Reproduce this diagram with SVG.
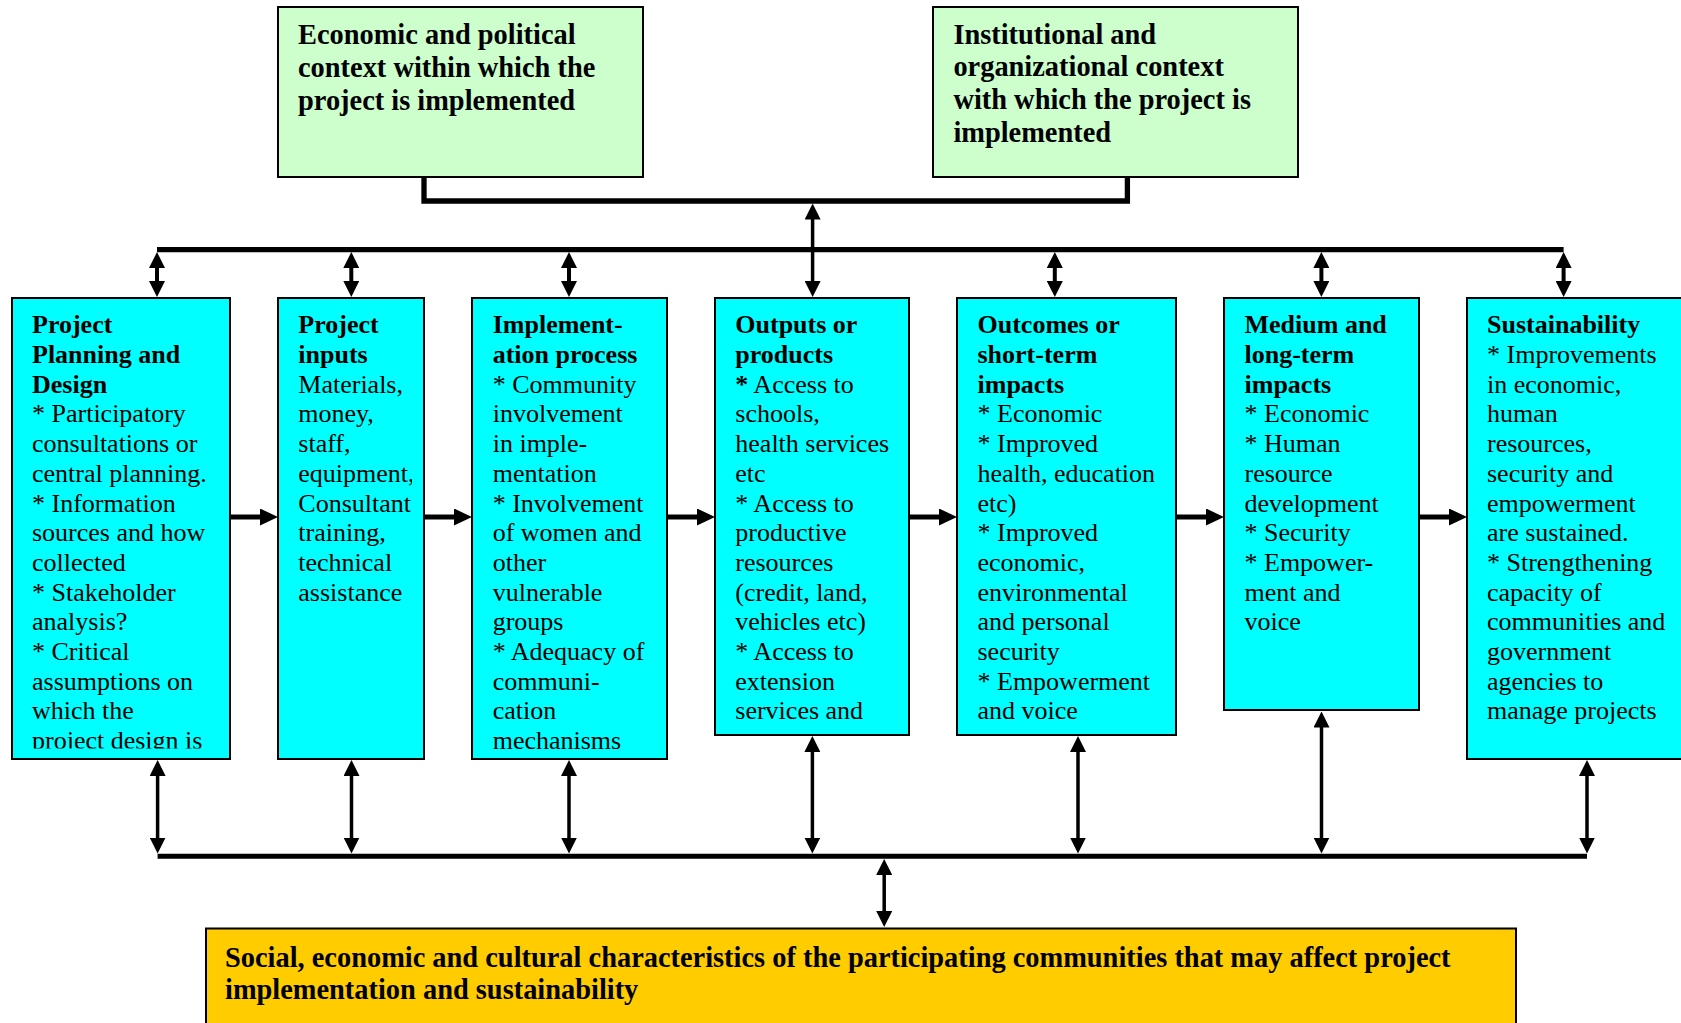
<svg xmlns="http://www.w3.org/2000/svg" width="1681" height="1023" viewBox="0 0 1681 1023">
<style>
.ctx{fill:#CCFFCC;stroke:#000;stroke-width:2}
.stage{fill:#00FFFF;stroke:#000;stroke-width:2}
.comm{fill:#FFCC00;stroke:#000;stroke-width:2}
text{font-family:"Liberation Serif","Times New Roman",serif;fill:#000}
.big{font-size:28.4px;font-weight:bold}
.body{font-size:26px}
.b{font-weight:bold}
.bus{stroke:#000;stroke-width:5.3;fill:none}
.harr{stroke:#000;stroke-width:5;marker-end:url(#headL)}
.varr{stroke:#000;stroke-width:4;marker-start:url(#head);marker-end:url(#head)}
.varr2{stroke:#000;stroke-width:3.5;marker-start:url(#head);marker-end:url(#head)}
</style>
<defs>
<marker id="headL" markerUnits="userSpaceOnUse" markerWidth="18" markerHeight="17" refX="1" refY="8.5" orient="auto"><path d="M0,0 L18,8.5 L0,17 z" fill="#000"/></marker>
<marker id="head" markerUnits="userSpaceOnUse" markerWidth="16" markerHeight="16" refX="1" refY="8" orient="auto-start-reverse"><path d="M0,0 L16,8 L0,16 z" fill="#000"/></marker>
<clipPath id="clip1"><rect x="12" y="298" width="218" height="450.5"/></clipPath>
<clipPath id="clip2"><rect x="278" y="298" width="134" height="461"/></clipPath>
<clipPath id="clip3"><rect x="472" y="298" width="195" height="452"/></clipPath>
</defs>

<g id="connectors">
<path class="bus" d="M424,177 V201 H1127.4 V177"/>
<line class="bus" x1="157" y1="249.7" x2="1563.6" y2="249.7"/>
<line class="bus" x1="157.6" y1="856.2" x2="1587" y2="856.2" style="stroke-width:5"/>
<line class="varr" x1="157" y1="267" x2="157" y2="282"/>
<line class="varr" x1="351.3" y1="267" x2="351.3" y2="282"/>
<line class="varr" x1="569" y1="267" x2="569" y2="282"/>
<line class="varr2" x1="812.6" y1="218.5" x2="812.6" y2="282"/>
<line class="varr" x1="1054.8" y1="267" x2="1054.8" y2="282"/>
<line class="varr" x1="1321.4" y1="267" x2="1321.4" y2="282"/>
<line class="varr" x1="1563.6" y1="267" x2="1563.6" y2="282"/>
<line class="harr" x1="231" y1="517" x2="261" y2="517"/>
<line class="harr" x1="425" y1="517" x2="455" y2="517"/>
<line class="harr" x1="668" y1="517" x2="698" y2="517"/>
<line class="harr" x1="910" y1="517" x2="940" y2="517"/>
<line class="harr" x1="1177" y1="517" x2="1207" y2="517"/>
<line class="harr" x1="1420" y1="517" x2="1450" y2="517"/>
<line class="varr2" x1="157.6" y1="775" x2="157.6" y2="838.5"/>
<line class="varr2" x1="351.5" y1="775" x2="351.5" y2="838.5"/>
<line class="varr2" x1="569" y1="775" x2="569" y2="838.5"/>
<line class="varr2" x1="812.4" y1="751" x2="812.4" y2="838.5"/>
<line class="varr2" x1="1078" y1="751" x2="1078" y2="838.5"/>
<line class="varr2" x1="1321.5" y1="726.5" x2="1321.5" y2="838.5"/>
<line class="varr2" x1="1587" y1="775" x2="1587" y2="838.5"/>
<line class="varr2" x1="884.2" y1="874" x2="884.2" y2="912"/>
</g>

<g id="econ-political">
<rect class="ctx" x="278" y="7" width="365" height="170"/>
<text class="big"><tspan x="298" y="43.5">Economic and political</tspan><tspan x="298" dy="33.2">context within which the</tspan><tspan x="298" dy="33.2">project is implemented</tspan></text>
</g>

<g id="institutional">
<rect class="ctx" x="933" y="7" width="365" height="170"/>
<text class="big"><tspan x="953.4" y="43.5">Institutional and</tspan><tspan x="953.4" dy="32.8">organizational context</tspan><tspan x="953.4" dy="32.8">with which the project is</tspan><tspan x="953.4" dy="32.8">implemented</tspan></text>
</g>

<g id="planning">
<rect class="stage" x="12" y="298" width="218" height="461"/>
<text class="body" clip-path="url(#clip1)"><tspan x="32" y="333.3" class="b">Project</tspan><tspan x="32" dy="29.7" class="b">Planning and</tspan><tspan x="32" dy="29.7" class="b">Design</tspan><tspan x="32" dy="29.7">* Participatory</tspan><tspan x="32" dy="29.7">consultations or</tspan><tspan x="32" dy="29.7">central planning.</tspan><tspan x="32" dy="29.7">* Information</tspan><tspan x="32" dy="29.7">sources and how</tspan><tspan x="32" dy="29.7">collected</tspan><tspan x="32" dy="29.7">* Stakeholder</tspan><tspan x="32" dy="29.7">analysis?</tspan><tspan x="32" dy="29.7">* Critical</tspan><tspan x="32" dy="29.7">assumptions on</tspan><tspan x="32" dy="29.7">which the</tspan><tspan x="32" dy="29.7">project design is</tspan></text>
</g>

<g id="inputs">
<rect class="stage" x="278" y="298" width="146" height="461"/>
<text class="body" clip-path="url(#clip2)"><tspan x="298.3" y="333.3" class="b">Project</tspan><tspan x="298.3" dy="29.7" class="b">inputs</tspan><tspan x="298.3" dy="29.7">Materials,</tspan><tspan x="298.3" dy="29.7">money,</tspan><tspan x="298.3" dy="29.7">staff,</tspan><tspan x="298.3" dy="29.7">equipment,</tspan><tspan x="298.3" dy="29.7">Consultant</tspan><tspan x="298.3" dy="29.7">training,</tspan><tspan x="298.3" dy="29.7">technical</tspan><tspan x="298.3" dy="29.7">assistance</tspan></text>
</g>

<g id="implementation">
<rect class="stage" x="472" y="298" width="195" height="461"/>
<text class="body" clip-path="url(#clip3)"><tspan x="492.7" y="333.3" class="b">Implement-</tspan><tspan x="492.7" dy="29.7" class="b">ation process</tspan><tspan x="492.7" dy="29.7">* Community</tspan><tspan x="492.7" dy="29.7">involvement</tspan><tspan x="492.7" dy="29.7">in imple-</tspan><tspan x="492.7" dy="29.7">mentation</tspan><tspan x="492.7" dy="29.7">* Involvement</tspan><tspan x="492.7" dy="29.7">of women and</tspan><tspan x="492.7" dy="29.7">other</tspan><tspan x="492.7" dy="29.7">vulnerable</tspan><tspan x="492.7" dy="29.7">groups</tspan><tspan x="492.7" dy="29.7">* Adequacy of</tspan><tspan x="492.7" dy="29.7">communi-</tspan><tspan x="492.7" dy="29.7">cation</tspan><tspan x="492.7" dy="29.7">mechanisms</tspan></text>
</g>

<g id="outputs">
<rect class="stage" x="715" y="298" width="194" height="437"/>
<text class="body"><tspan x="735.3" y="333.3" class="b">Outputs or</tspan><tspan x="735.3" dy="29.7" class="b">products</tspan><tspan x="735.3" dy="29.7"><tspan class="b">*</tspan> Access to</tspan><tspan x="735.3" dy="29.7">schools,</tspan><tspan x="735.3" dy="29.7">health services</tspan><tspan x="735.3" dy="29.7">etc</tspan><tspan x="735.3" dy="29.7">* Access to</tspan><tspan x="735.3" dy="29.7">productive</tspan><tspan x="735.3" dy="29.7">resources</tspan><tspan x="735.3" dy="29.7">(credit, land,</tspan><tspan x="735.3" dy="29.7">vehicles etc)</tspan><tspan x="735.3" dy="29.7">* Access to</tspan><tspan x="735.3" dy="29.7">extension</tspan><tspan x="735.3" dy="29.7">services and</tspan></text>
</g>

<g id="outcomes">
<rect class="stage" x="957" y="298" width="219" height="437"/>
<text class="body"><tspan x="977.5" y="333.3" class="b">Outcomes or</tspan><tspan x="977.5" dy="29.7" class="b">short-term</tspan><tspan x="977.5" dy="29.7" class="b">impacts</tspan><tspan x="977.5" dy="29.7">* Economic</tspan><tspan x="977.5" dy="29.7">* Improved</tspan><tspan x="977.5" dy="29.7">health, education</tspan><tspan x="977.5" dy="29.7">etc)</tspan><tspan x="977.5" dy="29.7">* Improved</tspan><tspan x="977.5" dy="29.7">economic,</tspan><tspan x="977.5" dy="29.7">environmental</tspan><tspan x="977.5" dy="29.7">and personal</tspan><tspan x="977.5" dy="29.7">security</tspan><tspan x="977.5" dy="29.7">* Empowerment</tspan><tspan x="977.5" dy="29.7">and voice</tspan></text>
</g>

<g id="long-term">
<rect class="stage" x="1224" y="298" width="195" height="412"/>
<text class="body"><tspan x="1244.5" y="333.3" class="b">Medium and</tspan><tspan x="1244.5" dy="29.7" class="b">long-term</tspan><tspan x="1244.5" dy="29.7" class="b">impacts</tspan><tspan x="1244.5" dy="29.7">* Economic</tspan><tspan x="1244.5" dy="29.7">* Human</tspan><tspan x="1244.5" dy="29.7">resource</tspan><tspan x="1244.5" dy="29.7">development</tspan><tspan x="1244.5" dy="29.7">* Security</tspan><tspan x="1244.5" dy="29.7">* Empower-</tspan><tspan x="1244.5" dy="29.7">ment and</tspan><tspan x="1244.5" dy="29.7">voice</tspan></text>
</g>

<g id="sustainability">
<rect class="stage" x="1467" y="298" width="230" height="461"/>
<text class="body"><tspan x="1487" y="333.3" class="b">Sustainability</tspan><tspan x="1487" dy="29.7">* Improvements</tspan><tspan x="1487" dy="29.7">in economic,</tspan><tspan x="1487" dy="29.7">human</tspan><tspan x="1487" dy="29.7">resources,</tspan><tspan x="1487" dy="29.7">security and</tspan><tspan x="1487" dy="29.7">empowerment</tspan><tspan x="1487" dy="29.7">are sustained.</tspan><tspan x="1487" dy="29.7">* Strengthening</tspan><tspan x="1487" dy="29.7">capacity of</tspan><tspan x="1487" dy="29.7">communities and</tspan><tspan x="1487" dy="29.7">government</tspan><tspan x="1487" dy="29.7">agencies to</tspan><tspan x="1487" dy="29.7">manage projects</tspan></text>
</g>

<g id="communities">
<rect class="comm" x="206" y="928.5" width="1310" height="110"/>
<text class="big"><tspan x="225" y="966.5">Social, economic and cultural characteristics of the participating communities that may affect project</tspan><tspan x="225" dy="32">implementation and sustainability</tspan></text>
</g>
</svg>
